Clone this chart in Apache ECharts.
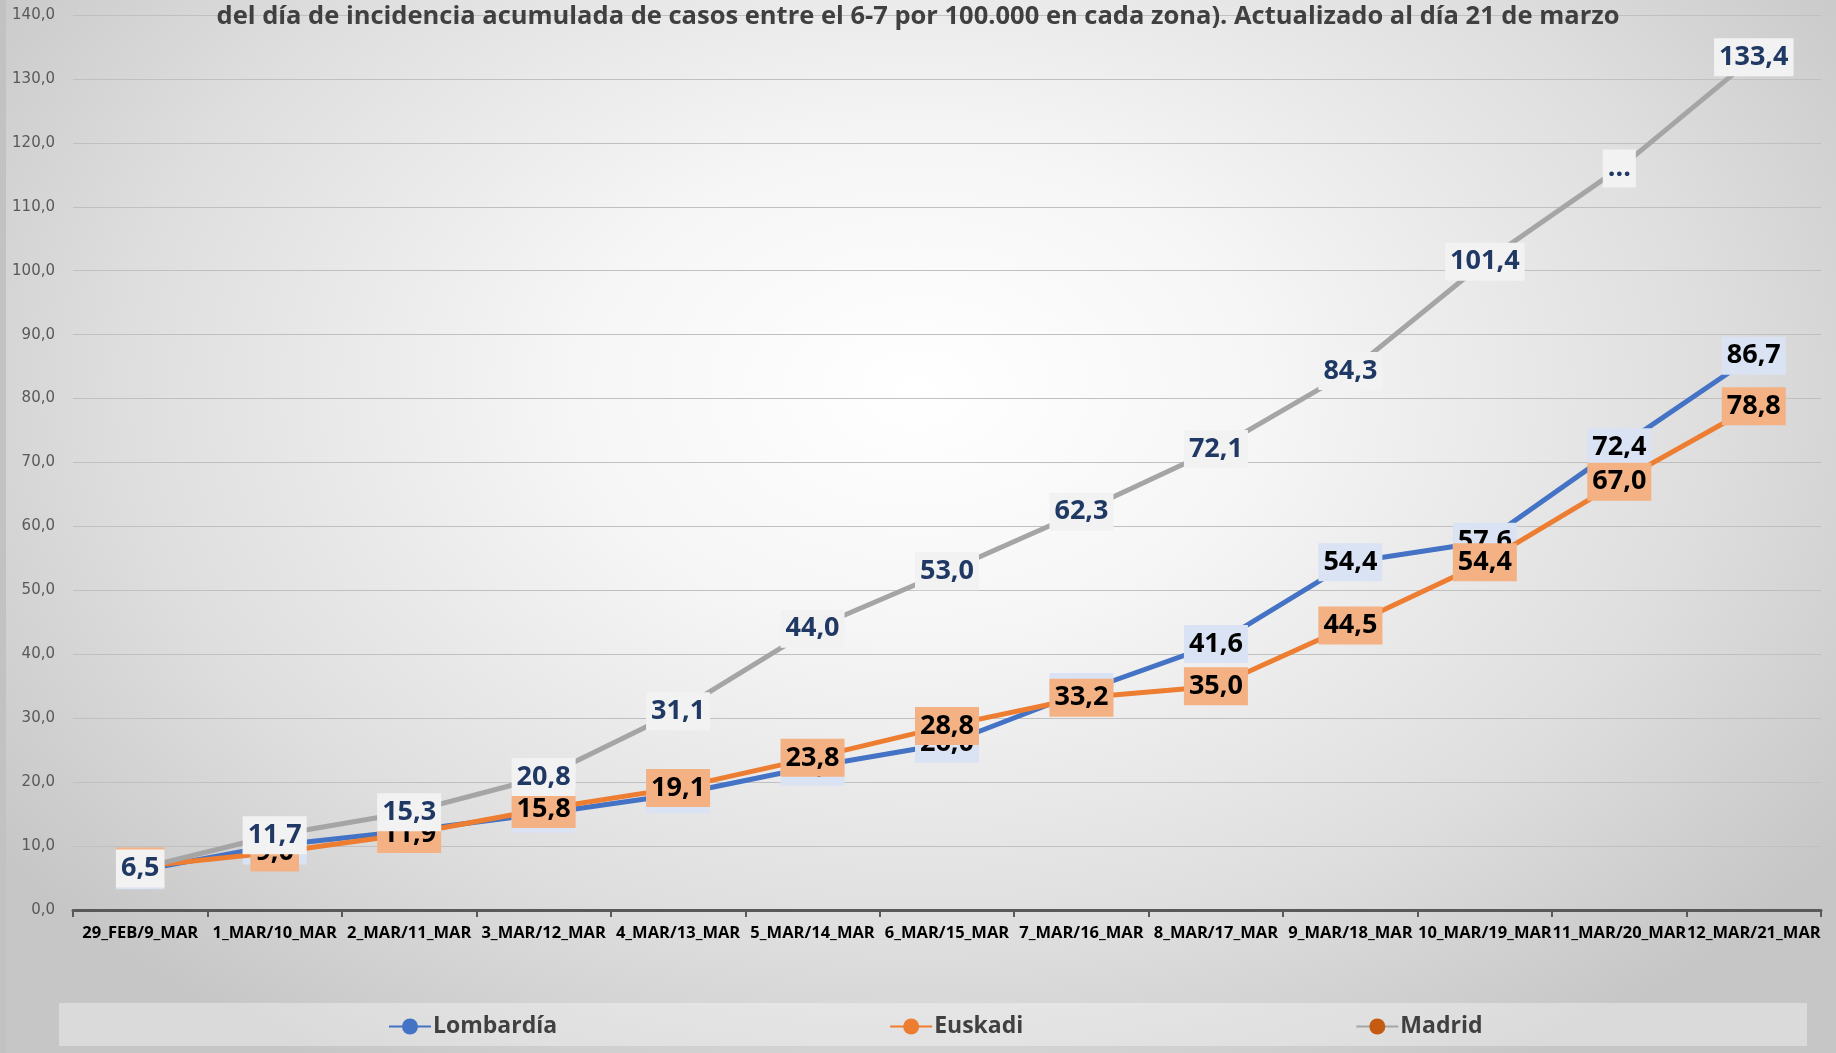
<!DOCTYPE html>
<html>
<head>
<meta charset="utf-8">
<script src="https://cdn.jsdelivr.net/npm/echarts@6/dist/echarts.min.js"></script>
<style>
  html, body { margin: 0; padding: 0; }
  #chart {
    width: 1836px;
    height: 1053px;
    background: radial-gradient(ellipse 62% 75% at 50% 37%, #ffffff 0%, #f6f6f6 30%, #dedede 70%, #c6c6c6 100%);
  }
</style>
</head>
<body>
<div id="chart"></div>
<script>
// categorías del eje X
const categories = [
  "29_FEB/9_MAR", "1_MAR/10_MAR", "2_MAR/11_MAR", "3_MAR/12_MAR", "4_MAR/13_MAR",
  "5_MAR/14_MAR", "6_MAR/15_MAR", "7_MAR/16_MAR", "8_MAR/17_MAR", "9_MAR/18_MAR",
  "10_MAR/19_MAR", "11_MAR/20_MAR", "12_MAR/21_MAR"
];

// incidencia acumulada por 100.000
const lombardia = [6.2, 10.1, 12.4, 15.1, 18.1, 22.4, 26.0, 34.1, 41.6, 54.4, 57.6, 72.4, 86.7];
const euskadi = [6.8, 9.0, 11.9, 15.8, 19.1, 23.8, 28.8, 33.2, 35.0, 44.5, 54.4, 67.0, 78.8];
const madrid = [6.5, 11.7, 15.3, 20.8, 31.1, 44.0, 53.0, 62.3, 72.1, 84.3, 101.4, 116.0, 133.4];

// punto de Madrid cuyo valor no se muestra
const madridHidden = [11];

const yTicks = [0, 10, 20, 30, 40, 50, 60, 70, 80, 90, 100, 110, 120, 130, 140];

const fmt = (v) => v.toFixed(1).replace(".", ",");

const chart = echarts.init(document.getElementById("chart"));

const labelBase = {
  show: true,
  position: "inside",
  fontFamily: "Open Sans",
  fontWeight: "bold",
  fontSize: 27,
  lineHeight: 30,
  padding: [5, 5, 3, 5],
};

const makeSeries = (name, data, color, labelBg, labelColor, z, hidden) => ({
  name: name,
  type: "line",
  data: data,
  z: z,
  symbol: "circle",
  symbolSize: 1,
  lineStyle: { color: color, width: 5 },
  itemStyle: { color: color },
  label: Object.assign({}, labelBase, {
    color: labelColor,
    backgroundColor: labelBg,
    formatter: (p) => (hidden && hidden.includes(p.dataIndex) ? "..." : fmt(p.value)),
  }),
  emphasis: { disabled: true },
  animation: false,
});

chart.setOption({
  animation: false,
  textStyle: { fontFamily: "Open Sans" },
  title: {
    text: "del día de incidencia acumulada de casos entre el 6-7 por 100.000 en cada zona). Actualizado al día 21 de marzo",
    left: "center",
    top: -1,
    textStyle: {
      fontFamily: "Open Sans",
      fontWeight: "bold",
      fontSize: 25.5,
      color: "#404040",
    },
  },
  graphic: [
    {
      type: "rect",
      z: -1,
      shape: { x: 59, y: 1003, width: 1748, height: 43 },
      style: { fill: "rgba(255,255,255,0.35)" },
    },
    {
      type: "rect",
      z: -1,
      shape: { x: 0, y: 0, width: 6, height: 1053 },
      style: { fill: "#c2c2c2" },
    },
  ],
  legend: {
    left: 383,
    top: 1010,
    itemGap: 332,
    itemWidth: 42,
    itemHeight: 20,
    textStyle: {
      fontFamily: "Open Sans",
      fontWeight: "bold",
      fontSize: 23,
      color: "#404040",
      padding: [0, 0, 0, -3],
    },
    data: [
      { name: "Lombardía" },
      { name: "Euskadi" },
      { name: "Madrid", itemStyle: { color: "#c55a11" } },
    ],
  },
  grid: {
    left: 73,
    right: 15,
    top: 15,
    bottom: 143,
  },
  xAxis: {
    type: "category",
    data: categories,
    boundaryGap: true,
    axisLine: { lineStyle: { color: "#595959", width: 3 } },
    axisTick: { show: true, length: 7, lineStyle: { color: "#595959", width: 2 } },
    axisLabel: {
      interval: 0,
      margin: 15,
      fontFamily: "Open Sans",
      fontWeight: "bold",
      fontSize: 16.5,
      color: "#000000",
      hideOverlap: false,
    },
  },
  yAxis: {
    type: "value",
    min: yTicks[0],
    max: yTicks[yTicks.length - 1],
    interval: 10,
    axisLine: { show: false },
    axisTick: { show: false },
    splitLine: { lineStyle: { color: "#c0c0c0", width: 1 } },
    axisLabel: {
      margin: 18,
      fontFamily: "DejaVu Sans",
      fontSize: 15,
      color: "#595959",
      formatter: (v) => fmt(v),
    },
  },
  series: [
    makeSeries("Lombardía", lombardia, "#4472c4", "#dae3f3", "#000000", 2),
    makeSeries("Euskadi", euskadi, "#ed7d31", "#f4b183", "#000000", 3),
    makeSeries("Madrid", madrid, "#a5a5a5", "#f2f2f2", "#1f3864", 4, madridHidden),
  ],
});
</script>
</body>
</html>
